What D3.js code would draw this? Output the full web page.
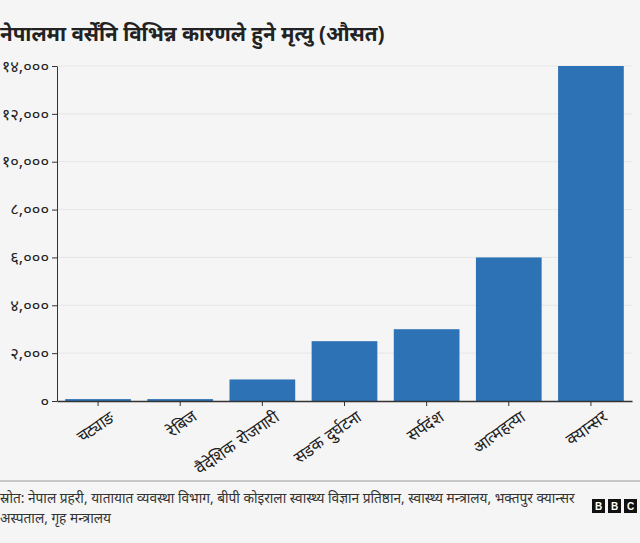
<!DOCTYPE html>
<html><head><meta charset="utf-8">
<script src="https://cdn.jsdelivr.net/npm/d3@7"></script>
<style>
body{margin:0;background:#f5f5f5;font-family:"Noto Sans","Lato",sans-serif;}
svg{display:block;}
</style></head>
<body><svg id="c" width="640" height="543"></svg>
<script>
const categories = ["चट्याङ","रेबिज","वैदेशिक रोजगारी","सडक दुर्घटना","सर्पदंश","आत्महत्या","क्यान्सर"];
const values = [80, 80, 900, 2500, 3000, 6000, 14000];
const yTicks = [0,2000,4000,6000,8000,10000,12000,14000];
const title = "नेपालमा वर्सेंनि विभिन्न कारणले हुने मृत्यु (औसत)";
const sourceLines = ["स्रोत: नेपाल प्रहरी, यातायात व्यवस्था विभाग, बीपी कोइराला स्वास्थ्य विज्ञान प्रतिष्ठान, स्वास्थ्य मन्त्रालय, भक्तपुर क्यान्सर","अस्पताल, गृह मन्त्रालय"];

const devDigits = "०१२३४५६७८९";
const toDev = s => s.replace(/[0-9]/g, d => devDigits[+d]);
const fmt = v => toDev(d3.format(",")(v));

const svg = d3.select("#c");
svg.append("rect").attr("width",640).attr("height",543).attr("fill","#f5f5f5");

const m = {left:57, right:632, top:66, bottom:401};
const x = d3.scaleBand().domain(categories).range([m.left, m.right]).paddingInner(0.2).paddingOuter(0.1);
const y = d3.scaleLinear().domain([0,14000]).range([m.bottom, m.top]);

svg.append("text").attr("x",0).attr("y",41).attr("font-size",20.6).attr("font-weight","bold").attr("fill","#222").text(title);

// grid
svg.append("g").selectAll("line").data(yTicks.slice(1)).join("line")
  .attr("x1",m.left).attr("x2",m.right).attr("y1",d=>y(d)).attr("y2",d=>y(d))
  .attr("stroke","#e6e6e6").attr("stroke-width",1);

// bars
svg.append("g").selectAll("rect").data(values).join("rect")
  .attr("x",(d,i)=>x(categories[i])).attr("width",x.bandwidth())
  .attr("y",d=>y(d)).attr("height",d=>y(0)-y(d)).attr("fill","#2e72b6");

// y axis
const ya = svg.append("g").attr("transform",`translate(${m.left},0)`)
  .call(d3.axisLeft(y).tickValues(yTicks).tickFormat(fmt).tickSize(5).tickSizeOuter(0));
ya.select(".domain").attr("stroke","#333");
ya.selectAll(".tick line").attr("stroke","#333");
ya.selectAll("text").attr("font-size",16.5).attr("fill","#222").attr("font-family","Noto Sans, sans-serif");

// x axis
const xa = svg.append("g").attr("transform",`translate(0,${m.bottom})`)
  .call(d3.axisBottom(x).tickSize(5).tickSizeOuter(0));
xa.select(".domain").attr("stroke","#333").attr("stroke-width",1.5);
xa.selectAll(".tick line").attr("stroke","#333");
xa.selectAll("text").attr("font-size",16.5).attr("fill","#222")
  .attr("text-anchor","end").attr("dx","0.25em").attr("dy","1.05em")
  .attr("transform","rotate(-35)");

// separator
svg.append("line").attr("x1",0).attr("x2",640).attr("y1",481).attr("y2",481).attr("stroke","#999");

// source
svg.append("g").selectAll("text").data(sourceLines).join("text")
  .attr("x",0).attr("y",(d,i)=>503+i*20).attr("font-size",13.7).attr("fill","#333").text(d=>d);

// BBC logo
const logo = svg.append("g").attr("transform","translate(592,499)");
["B","B","C"].forEach((l,i)=>{
  logo.append("rect").attr("x",i*16).attr("y",0).attr("width",13).attr("height",14).attr("fill","#111");
  logo.append("text").attr("x",i*16+6.5).attr("y",11).attr("text-anchor","middle").attr("font-size",10)
    .attr("font-weight","bold").attr("fill","#fff").attr("font-family","Liberation Sans, Arial, sans-serif").text(l);
});
</script></body></html>
